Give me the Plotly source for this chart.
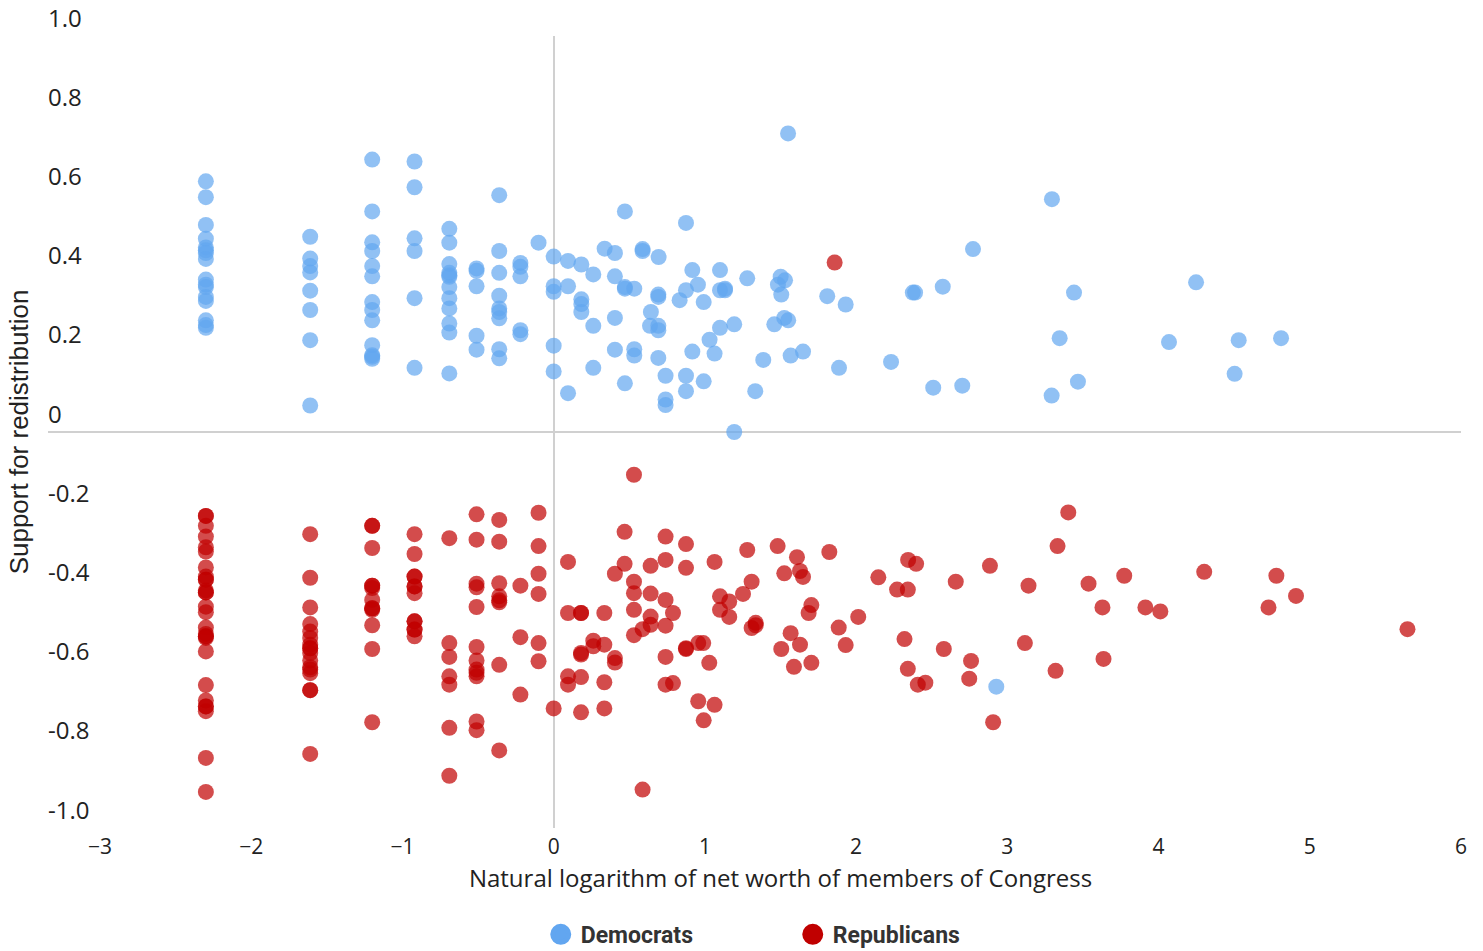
import plotly.graph_objects as go

# ---------------- data ----------------
dem_x = ([-2.30] * 16 + [-1.61] * 8 + [-1.20] * 13 + [-0.92] * 6 + [-0.69] * 12 +
         [-0.51] * 5 + [-0.36] * 9 + [-0.22] * 5 + [-0.10] + [0.0] * 5 +
         [0.095, 0.095, 0.095, 0.183, 0.183, 0.183, 0.183, 0.262, 0.262, 0.262,
          0.337, 0.405, 0.405, 0.405, 0.405, 0.471, 0.471, 0.471, 0.471, 0.533,
          0.533, 0.533, 0.588, 0.588, 0.643, 0.637, 0.694, 0.692, 0.692, 0.692,
          0.692, 0.692, 0.740, 0.740, 0.740, 0.833, 0.875, 0.875, 0.875, 0.875,
          0.917, 0.954, 0.992, 0.992, 0.917, 1.031, 1.064, 1.100, 1.100, 1.133,
          1.133, 1.100, 1.194, 1.194, 1.280, 1.333, 1.386, 1.459, 1.501, 1.530,
          1.483, 1.505, 1.525, 1.551, 1.567, 1.649, 1.550, 1.809, 1.931, 1.887,
          2.231, 2.375, 2.390, 2.573, 2.510, 2.702, 2.773, 3.295, 3.441, 3.346,
          3.293, 3.467, 4.248, 4.069, 4.530, 4.503, 4.810, 2.927])
dem_y = ([0.633, 0.593, 0.523, 0.488, 0.466, 0.459, 0.452, 0.437, 0.385, 0.372,
          0.366, 0.341, 0.331, 0.282, 0.270, 0.263] +
         [0.493, 0.438, 0.419, 0.403, 0.357, 0.308, 0.232, 0.067] +
         [0.688, 0.557, 0.479, 0.457, 0.419, 0.393, 0.328, 0.308, 0.282, 0.219,
          0.194, 0.190, 0.185] +
         [0.683, 0.618, 0.489, 0.457, 0.338, 0.162] +
         [0.513, 0.478, 0.424, 0.402, 0.396, 0.392, 0.366, 0.338, 0.312, 0.274,
          0.251, 0.148] +
         [0.413, 0.407, 0.368, 0.243, 0.208] +
         [0.598, 0.457, 0.402, 0.344, 0.312, 0.303, 0.287, 0.209, 0.186] +
         [0.427, 0.417, 0.393, 0.257, 0.247] +
         [0.478] +
         [0.443, 0.368, 0.354, 0.218, 0.153] +
         [0.432, 0.368, 0.098, 0.423, 0.335, 0.323, 0.303, 0.398, 0.268, 0.162,
          0.463, 0.452, 0.393, 0.288, 0.208, 0.557, 0.366, 0.362, 0.123, 0.362,
          0.209, 0.193, 0.462, 0.457, 0.303, 0.268, 0.442, 0.347, 0.341, 0.268,
          0.257, 0.187, 0.142, 0.082, 0.068, 0.333, 0.528, 0.358, 0.142, 0.103,
          0.409, 0.372, 0.328, 0.128, 0.203, 0.233, 0.198, 0.409, 0.358, 0.362,
          0.358, 0.263, 0.272, 0.000, 0.388, 0.103, 0.182, 0.272, 0.392, 0.383,
          0.372, 0.347, 0.288, 0.282, 0.193, 0.203, 0.754, 0.343, 0.322, 0.162,
          0.177, 0.352, 0.352, 0.367, 0.112, 0.117, 0.462, 0.588, 0.352, 0.237,
          0.092, 0.127, 0.378, 0.227, 0.232, 0.147, 0.237, -0.643])

rep_x = ([-2.30] * 28 + [-1.61] * 17 + [-1.20] * 13 + [-0.92] * 12 + [-0.69] * 7 +
         [-0.51] * 12 + [-0.36] * 8 + [-0.22] * 3 + [-0.10] * 6 +
         [0.0, 0.095, 0.095, 0.095, 0.095, 0.181, 0.181, 0.181, 0.181, 0.181,
          0.181, 0.262, 0.262, 0.335, 0.335, 0.335, 0.335, 0.405, 0.405, 0.405,
          0.469, 0.469, 0.531, 0.531, 0.531, 0.531, 0.531, 0.588, 0.588, 0.641,
          0.641, 0.641, 0.641, 0.740, 0.740, 0.740, 0.740, 0.740, 0.740, 0.789,
          0.789, 0.875, 0.875, 0.875, 0.875, 0.956, 0.989, 0.956, 0.992, 1.029,
          1.064, 1.064, 1.100, 1.100, 1.161, 1.161, 1.252, 1.280, 1.309, 1.309,
          1.336, 1.336, 1.481, 1.525, 1.609, 1.629, 1.649, 1.567, 1.505, 1.629,
          1.589, 1.704, 1.686, 1.704, 1.823, 1.885, 1.931, 2.014, 2.147, 1.858,
          3.403, 3.332, 2.344, 2.397, 2.271, 2.342, 2.659, 2.885, 3.140, 3.537,
          3.773, 3.629, 3.913, 4.012, 4.302, 4.779, 4.909, 4.727, 5.646, 2.320,
          2.580, 2.760, 2.748, 2.342, 2.408, 2.458, 3.116, 3.319, 3.636, 2.906])
rep_y = ([-0.212, -0.212, -0.237, -0.264, -0.291, -0.302, -0.342, -0.365, -0.373,
          -0.373, -0.400, -0.405, -0.405, -0.441, -0.455, -0.494, -0.510, -0.516,
          -0.516, -0.520, -0.554, -0.639, -0.678, -0.693, -0.693, -0.705, -0.823,
          -0.909] +
         [-0.258, -0.368, -0.443, -0.485, -0.504, -0.520, -0.537, -0.546, -0.546,
          -0.558, -0.577, -0.594, -0.600, -0.609, -0.652, -0.652, -0.813] +
         [-0.237, -0.237, -0.293, -0.388, -0.388, -0.394, -0.424, -0.445, -0.445,
          -0.449, -0.488, -0.548, -0.733] +
         [-0.258, -0.308, -0.365, -0.365, -0.390, -0.390, -0.407, -0.478, -0.478,
          -0.499, -0.499, -0.516] +
         [-0.268, -0.533, -0.568, -0.617, -0.638, -0.747, -0.868] +
         [-0.208, -0.272, -0.383, -0.392, -0.442, -0.543, -0.577, -0.600, -0.608,
          -0.617, -0.731, -0.753] +
         [-0.222, -0.277, -0.382, -0.415, -0.425, -0.430, -0.588, -0.804] +
         [-0.388, -0.518, -0.663] +
         [-0.204, -0.288, -0.358, -0.409, -0.533, -0.579] +
         [-0.698, -0.328, -0.457, -0.617, -0.638, -0.457, -0.457, -0.558, -0.562,
          -0.619, -0.708, -0.527, -0.541, -0.457, -0.537, -0.632, -0.698, -0.358,
          -0.571, -0.582, -0.252, -0.333, -0.108, -0.378, -0.407, -0.449, -0.513,
          -0.498, -0.903, -0.338, -0.408, -0.466, -0.487, -0.264, -0.323, -0.424,
          -0.489, -0.568, -0.638, -0.457, -0.634, -0.283, -0.343, -0.546, -0.548,
          -0.533, -0.533, -0.680, -0.728, -0.583, -0.328, -0.689, -0.415, -0.449,
          -0.428, -0.467, -0.409, -0.298, -0.378, -0.495, -0.482, -0.488, -0.288,
          -0.357, -0.316, -0.351, -0.366, -0.508, -0.548, -0.537, -0.593, -0.583,
          -0.457, -0.437, -0.303, -0.494, -0.538, -0.467, -0.367, 0.428,
          -0.203, -0.288, -0.323, -0.333, -0.398, -0.398, -0.378, -0.338, -0.388,
          -0.383, -0.363, -0.443, -0.443, -0.453, -0.353, -0.363, -0.414, -0.443,
          -0.498, -0.523, -0.548, -0.578, -0.623, -0.598, -0.638, -0.633, -0.533,
          -0.603, -0.573, -0.733])

y_ticks = [1.0, 0.8, 0.6, 0.4, 0.2, 0.0, -0.2, -0.4, -0.6, -0.8, -1.0]
y_tick_labels = ["1.0", "0.8", "0.6", "0.4", "0.2", "0", "-0.2", "-0.4", "-0.6", "-0.8", "-1.0"]
x_ticks = [-3, -2, -1, 0, 1, 2, 3, 4, 5, 6]

DEM = "rgb(98,166,240)"
REP = "rgb(192,0,0)"
TEXT_FAMILY = "Open Sans, Roboto, sans-serif"
Y_TICK_FONT = dict(family=TEXT_FAMILY, size=24, color="#222222")
X_TICK_FONT = dict(family=TEXT_FAMILY, size=21, color="#222222")

# ---------------- figure ----------------
W, H = 1483, 951
L, T, PW, PH = 100, 35.5, 1361, 793

fig = go.Figure()
fig.add_trace(go.Scatter(x=dem_x, y=dem_y, mode="markers", name="Democrats",
                         showlegend=False,
                         marker=dict(size=16, color=DEM, opacity=0.7, line=dict(width=0))))
fig.add_trace(go.Scatter(x=rep_x, y=rep_y, mode="markers", name="Republicans",
                         showlegend=False,
                         marker=dict(size=16, color=REP, opacity=0.7, line=dict(width=0))))
# legend entries
fig.add_trace(go.Scatter(x=[None], y=[None], mode="markers", name="Democrats",
                         marker=dict(size=16, color=DEM, line=dict(width=5, color=DEM))))
fig.add_trace(go.Scatter(x=[None], y=[None], mode="markers", name="Republicans",
                         marker=dict(size=16, color=REP, line=dict(width=5, color=REP))))

annotations = []
for v, t in zip(y_ticks, y_tick_labels):
    annotations.append(dict(x=(46 - L) / PW, xref="paper", xanchor="left",
                            y=v, yref="y", yanchor="middle", yshift=19,
                            text=t, showarrow=False, font=Y_TICK_FONT))

fig.update_layout(
    width=W, height=H,
    margin=dict(l=L, r=W - L - PW, t=T, b=H - T - PH, pad=0, autoexpand=False),
    paper_bgcolor="white", plot_bgcolor="white",
    font=dict(family=TEXT_FAMILY, color="#222222"),
    xaxis=dict(range=[-3, 6], tickvals=x_ticks, showgrid=False, zeroline=True,
               zerolinecolor="#d0d0d0", zerolinewidth=2, showline=False, ticks="",
               tickfont=X_TICK_FONT, ticklabelstandoff=4,
               title=dict(text="Natural logarithm of net worth of members of Congress",
                          font=dict(family=TEXT_FAMILY, size=24, color="#222222"),
                          standoff=11)),
    yaxis=dict(range=[-1, 1], showgrid=False, zeroline=False, showline=False,
               showticklabels=False, ticks="",
               title=dict(text="Support for redistribution",
                          font=dict(family="Liberation Sans, Arial, sans-serif", size=26, color="#222222"),
                          standoff=62)),
    shapes=[dict(type="line", xref="paper", yref="y", x0=(48 - L) / PW, x1=1, y0=0, y1=0,
                 line=dict(color="#d0d0d0", width=2), layer="below")],
    annotations=annotations,
    legend=dict(orientation="h", x=0.509, xanchor="center", y=(T + PH - 935) / PH,
                yanchor="middle", entrywidth=207,
                font=dict(family="Roboto, sans-serif", size=23, color="#333333", weight="bold"),
                bgcolor="rgba(0,0,0,0)"),
)

fig.write_html("out.html",
               config={"displayModeBar": False},
               post_script="document.body.style.margin='0';"
                           "document.documentElement.style.overflow='hidden';")
